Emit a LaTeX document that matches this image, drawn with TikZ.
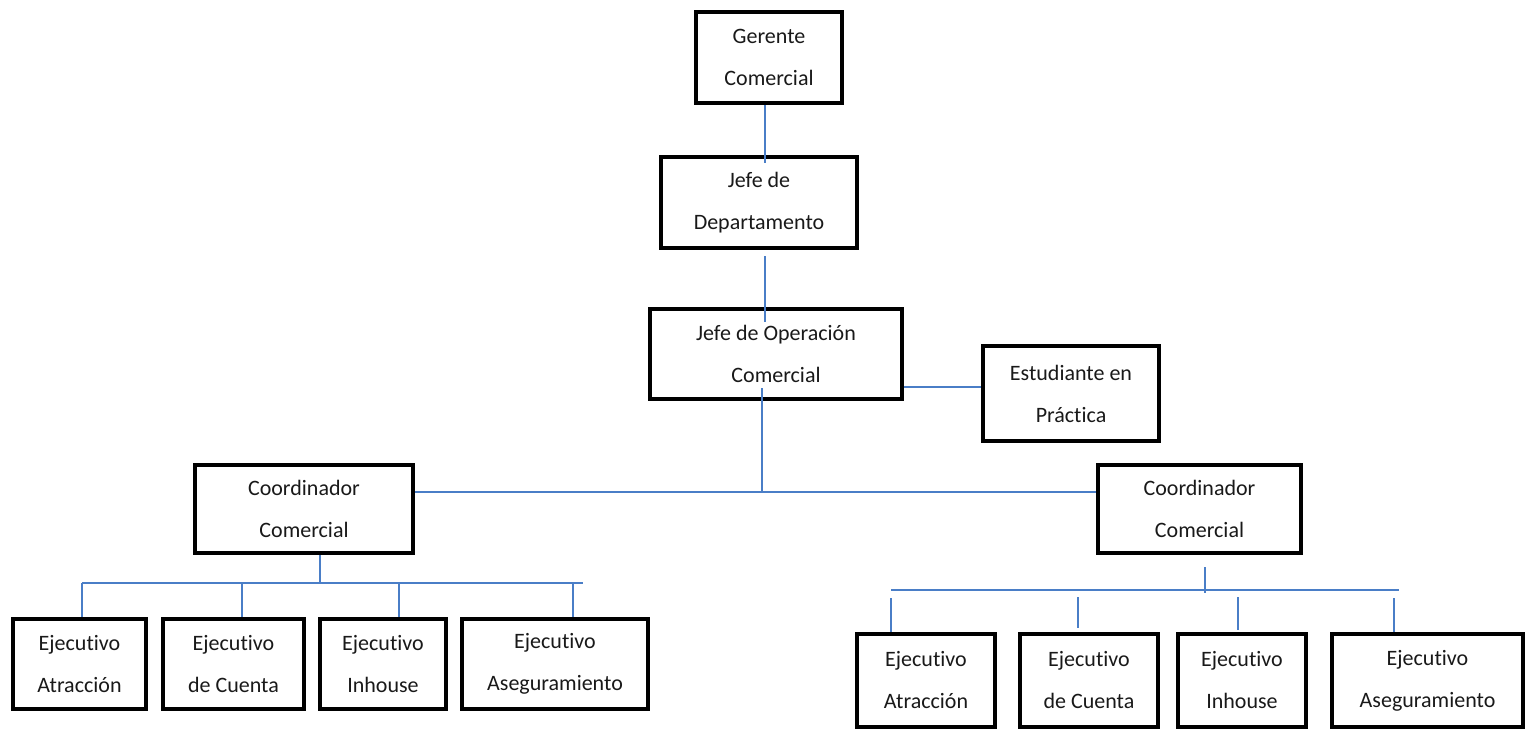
\documentclass[tikz,border=0pt]{standalone}
\usepackage{fontspec}
\setmainfont{Carlito}[Ligatures=NoCommon]
\definecolor{linkblue}{HTML}{4A7EC7}
\tikzset{
  orgbox/.style={draw=black, line width=4.5pt, inner sep=0pt, align=center,
    font=\fontsize{22}{42}\selectfont, text=black!90},
  conn/.style={draw=linkblue, line width=1.6pt}
}
\newcommand\orgbox[6]{%
  \node[orgbox, minimum width={#4pt-#2pt}, minimum height={#5pt-#3pt}]
    (#1) at ({(#2+#4)/2},{(#3+#5)/2}) {#6};}
\begin{document}
\begin{tikzpicture}[x=1pt,y=-1pt]
\useasboundingbox (0,0) rectangle (1533,731);
% boxes
\orgbox{g}{696}{12}{842}{103}{Gerente\\Comercial}
\orgbox{jd}{661}{157}{857}{248}{Jefe de\\Departamento}
\orgbox{jo}{650}{309}{902}{399}{Jefe de Operación\\Comercial}
\orgbox{es}{983}{346}{1159}{441}{Estudiante en\\Práctica}
\orgbox{cl}{195}{465}{413}{553}{Coordinador\\Comercial}
\orgbox{cr}{1098}{465}{1301}{553}{Coordinador\\Comercial}
\orgbox{la}{13}{619}{146}{709}{Ejecutivo\\Atracción}
\orgbox{lb}{163}{619}{304}{709}{Ejecutivo\\de Cuenta}
\orgbox{lc}{320}{619}{446}{709}{Ejecutivo\\Inhouse}
\orgbox{ld}{462}{619}{648}{709}{Ejecutivo\\Aseguramiento}
\orgbox{ra}{857}{634}{995}{727}{Ejecutivo\\Atracción}
\orgbox{rb}{1020}{634}{1158}{727}{Ejecutivo\\de Cuenta}
\orgbox{rc}{1178}{634}{1306}{727}{Ejecutivo\\Inhouse}
\orgbox{rd}{1332}{634}{1523}{727}{Ejecutivo\\Aseguramiento}
% connectors
\draw[conn] (765,0 |- g.south) -- (765,163);
\draw[conn] (765,256) -- (765,322);
\draw[conn] (762,388) -- (762,492);
\draw[conn] (cl.east |- 0,492) -- (cr.west |- 0,492);
\draw[conn] (jo.east |- 0,387) -- (es.west |- 0,387);
% left group
\draw[conn] (320,0 |- cl.south) -- (320,583);
\draw[conn] (82,583) -- (583,583);
\draw[conn] (82,583) -- (82,0 |- la.north);
\draw[conn] (242,583) -- (242,0 |- lb.north);
\draw[conn] (399,583) -- (399,0 |- lc.north);
\draw[conn] (573,583) -- (573,0 |- ld.north);
% right group
\draw[conn] (1205,567) -- (1205,593);
\draw[conn] (891,590) -- (1399,590);
\draw[conn] (891,598) -- (891,0 |- ra.north);
\draw[conn] (1078,597) -- (1078,628);
\draw[conn] (1238,597) -- (1238,630);
\draw[conn] (1394,598) -- (1394,0 |- rd.north);
\end{tikzpicture}
\end{document}
